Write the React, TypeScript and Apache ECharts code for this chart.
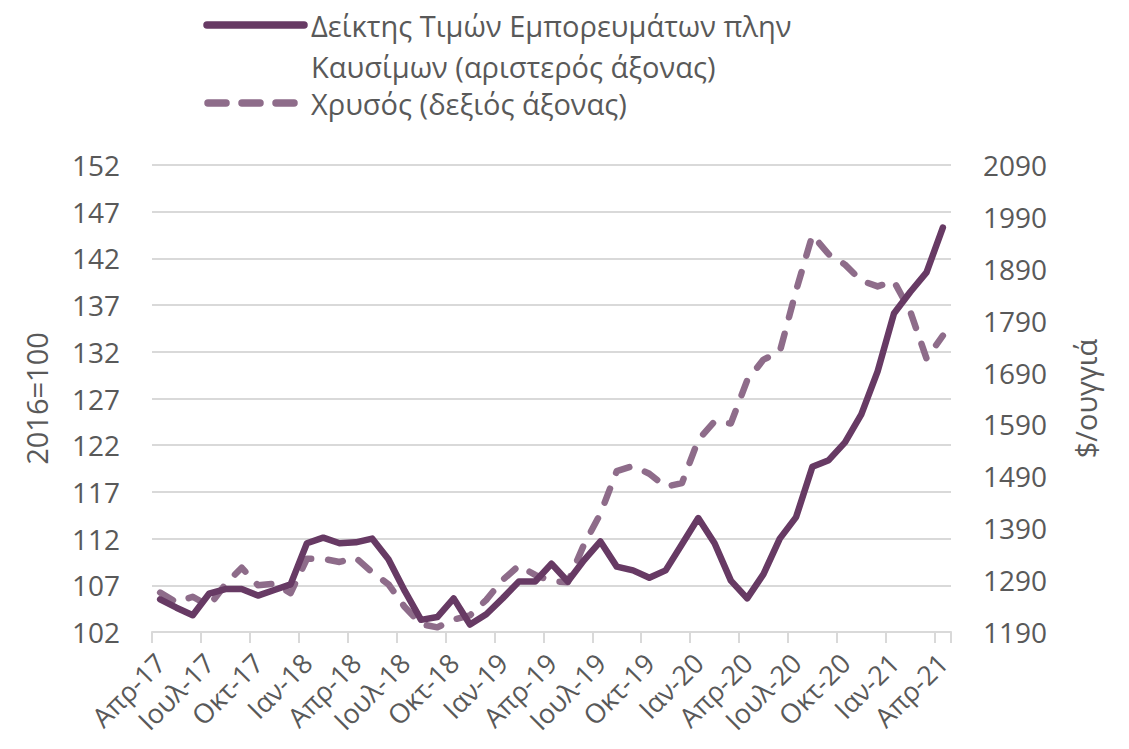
import React, { useEffect, useRef } from "react";
import * as echarts from "echarts";

const categories = [
  "Απρ-17", "Μαΐ-17", "Ιουν-17", "Ιουλ-17", "Αυγ-17", "Σεπ-17", "Οκτ-17", "Νοε-17", "Δεκ-17",
  "Ιαν-18", "Φεβ-18", "Μαρ-18", "Απρ-18", "Μαΐ-18", "Ιουν-18", "Ιουλ-18", "Αυγ-18", "Σεπ-18",
  "Οκτ-18", "Νοε-18", "Δεκ-18", "Ιαν-19", "Φεβ-19", "Μαρ-19", "Απρ-19", "Μαΐ-19", "Ιουν-19",
  "Ιουλ-19", "Αυγ-19", "Σεπ-19", "Οκτ-19", "Νοε-19", "Δεκ-19", "Ιαν-20", "Φεβ-20", "Μαρ-20",
  "Απρ-20", "Μαΐ-20", "Ιουν-20", "Ιουλ-20", "Αυγ-20", "Σεπ-20", "Οκτ-20", "Νοε-20", "Δεκ-20",
  "Ιαν-21", "Φεβ-21", "Μαρ-21", "Απρ-21",
];

const commodityIndex = [
  105.5, 104.6, 103.8, 106.1, 106.6, 106.6, 105.9, 106.5, 107.1,
  111.5, 112.1, 111.5, 111.6, 112.0, 109.8, 106.4, 103.3, 103.6,
  105.6, 102.8, 103.9, 105.6, 107.4, 107.4, 109.3, 107.4, 109.7,
  111.7, 109.0, 108.6, 107.8, 108.6, 111.4, 114.2, 111.5, 107.5,
  105.6, 108.2, 112.0, 114.3, 119.7, 120.4, 122.3, 125.3, 129.9,
  136.1, 138.4, 140.5, 145.3,
];

const goldPrice = [
  1266, 1247, 1258, 1240, 1282, 1314, 1280, 1283, 1265,
  1331, 1331, 1325, 1333, 1305, 1282, 1238, 1205, 1199,
  1214, 1222, 1252, 1290, 1318, 1300, 1288, 1286, 1359,
  1418, 1500, 1510, 1495, 1470, 1477, 1560, 1596, 1592,
  1675, 1715, 1730, 1848, 1955, 1918, 1898, 1867, 1856,
  1866, 1808, 1717, 1761,
];

const leftTicks = { min: 102, max: 152, interval: 5 };
const rightTicks = { min: 1190, max: 2090, interval: 100 };

const seriesNames = [
  "Δείκτης Τιμών Εμπορευμάτων πλην Καυσίμων (αριστερός άξονας)",
  "Χρυσός (δεξιός άξονας)",
];
const legendLines = [
  "Δείκτης Τιμών Εμπορευμάτων πλην",
  "Καυσίμων (αριστερός άξονας)",
  "Χρυσός (δεξιός άξονας)",
];

const SOLID = "#673A64";
const DASHED = "#8E6C8A";
const TEXT = "#595959";
const GRID = "#D9D9D9";
const FONT = "Open Sans";

export default function App() {
  const ref = useRef<HTMLDivElement>(null);
  useEffect(() => {
    document.body.style.margin = "0";
    const chart = echarts.init(ref.current!, null, { renderer: "svg" });
    chart.setOption({
      animation: false,
      backgroundColor: "#ffffff",
      grid: { left: 152, right: 178, top: 165, bottom: 117 },
      xAxis: {
        type: "category",
        data: categories,
        boundaryGap: true,
        axisLine: { show: true, lineStyle: { color: GRID, width: 2 } },
        axisTick: { show: true, interval: 2, length: 11, lineStyle: { color: GRID, width: 2 } },
        axisLabel: {
          interval: 2,
          rotate: 45,
          color: TEXT,
          fontFamily: FONT,
          fontSize: 27,
          margin: 26,
        },
      },
      yAxis: [
        {
          type: "value",
          min: leftTicks.min,
          max: leftTicks.max,
          interval: leftTicks.interval,
          name: "2016=100",
          nameLocation: "middle",
          nameRotate: 90,
          nameGap: 101,
          nameTextStyle: { color: TEXT, fontFamily: FONT, fontSize: 29 },
          axisLine: { show: false },
          axisTick: { show: false },
          axisLabel: { color: TEXT, fontFamily: FONT, fontSize: 28, margin: 32 },
          splitLine: { show: true, lineStyle: { color: GRID, width: 2 } },
        },
        {
          type: "value",
          min: rightTicks.min,
          max: rightTicks.max,
          interval: rightTicks.interval,
          name: "$/ουγγιά",
          nameLocation: "middle",
          nameRotate: 90,
          nameGap: 120,
          nameTextStyle: { color: TEXT, fontFamily: FONT, fontSize: 29 },
          axisLine: { show: false },
          axisTick: { show: false },
          axisLabel: {
            color: TEXT,
            fontFamily: FONT,
            fontSize: 28,
            margin: 32,
            formatter: (v: number) => String(v),
          },
          splitLine: { show: false },
        },
      ],
      series: [
        {
          name: seriesNames[0],
          type: "line",
          yAxisIndex: 0,
          data: commodityIndex,
          showSymbol: false,
          symbol: "none",
          lineStyle: { color: SOLID, width: 6.5, cap: "round", join: "round" },
          z: 3,
        },
        {
          name: seriesNames[1],
          type: "line",
          yAxisIndex: 1,
          data: goldPrice,
          showSymbol: false,
          symbol: "none",
          lineStyle: { color: DASHED, width: 6.5, type: [15, 17], cap: "round", join: "round" },
          z: 2,
        },
      ],
      graphic: [
        {
          type: "line",
          shape: { x1: 207, y1: 25, x2: 304, y2: 25 },
          style: { stroke: SOLID, lineWidth: 7.5, lineCap: "round" },
        },
        {
          type: "text",
          x: 311,
          y: 25,
          style: { text: legendLines[0], fill: TEXT, font: `29px "${FONT}"`, verticalAlign: "middle" },
        },
        {
          type: "text",
          x: 311,
          y: 66,
          style: { text: legendLines[1], fill: TEXT, font: `29px "${FONT}"`, verticalAlign: "middle" },
        },
        {
          type: "line",
          shape: { x1: 208, y1: 103, x2: 300, y2: 103 },
          style: { stroke: DASHED, lineWidth: 7.5, lineCap: "round", lineDash: [18, 16] },
        },
        {
          type: "text",
          x: 311,
          y: 103,
          style: { text: legendLines[2], fill: TEXT, font: `29px "${FONT}"`, verticalAlign: "middle" },
        },
      ],
    });
    return () => chart.dispose();
  }, []);
  return <div ref={ref} style={{ width: 1129, height: 749 }} />;
}
